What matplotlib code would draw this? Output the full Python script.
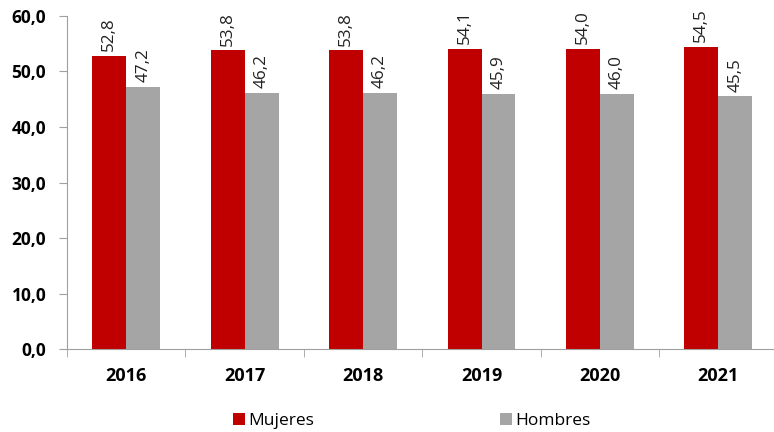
import numpy as np
import matplotlib.pyplot as plt
from matplotlib.ticker import FixedLocator, NullFormatter

plt.rcParams['font.family'] = ['Open Sans', 'DejaVu Sans']

# datos
anios = ['2016', '2017', '2018', '2019', '2020', '2021']
mujeres = [52.8, 53.8, 53.8, 54.1, 54.0, 54.5]
hombres = [47.2, 46.2, 46.2, 45.9, 46.0, 45.5]

fig = plt.figure(figsize=(7.74, 4.32), dpi=100)
ax = fig.add_axes([0.0866, 0.192, 0.918, 0.771])

x = np.arange(len(anios))
w = 0.287
b1 = ax.bar(x - w / 2, mujeres, w, color='#C00000', label='Mujeres')
b2 = ax.bar(x + w / 2, hombres, w, color='#A5A5A5', label='Hombres')

# etiquetas de valores (verticales)
for bars, vals in [(b1, mujeres), (b2, hombres)]:
    for r, v in zip(bars, vals):
        ax.annotate(f'{v:.1f}'.replace('.', ','), (r.get_x() + r.get_width() / 2, v),
                    xytext=(0, 3.5), textcoords='offset points', rotation=90,
                    ha='center', va='bottom', fontsize=12.3, color='#222222')

ax.set_xlim(-0.5, len(anios) - 0.5)
ax.set_ylim(0, 60)
ax.set_yticks(np.arange(0, 61, 10))
ax.set_yticklabels([f'{t:.1f}'.replace('.', ',') for t in np.arange(0, 61, 10)],
                   fontsize=12.5, fontweight='bold')
ax.set_xticks(x)
ax.set_xticklabels(anios, fontsize=13, fontweight='bold')
ax.tick_params(axis='x', length=0, pad=13)
ax.xaxis.set_minor_locator(FixedLocator(np.arange(-0.5, len(anios), 1)))
ax.xaxis.set_minor_formatter(NullFormatter())
ax.tick_params(axis='x', which='minor', length=6, color='#A0A0A0')
ax.tick_params(axis='y', length=6, color='#A0A0A0', pad=9)

for s in ['top', 'right']:
    ax.spines[s].set_visible(False)
for s in ['left', 'bottom']:
    ax.spines[s].set_color('#A0A0A0')

fig.legend(handles=[b1, b2], loc='center', bbox_to_anchor=(0.532, 0.025), ncol=2,
           frameon=False, fontsize=12.5, handlelength=0.7, handleheight=0.7,
           handletextpad=0.2, columnspacing=10.7)

plt.savefig('out.png', dpi=100)
